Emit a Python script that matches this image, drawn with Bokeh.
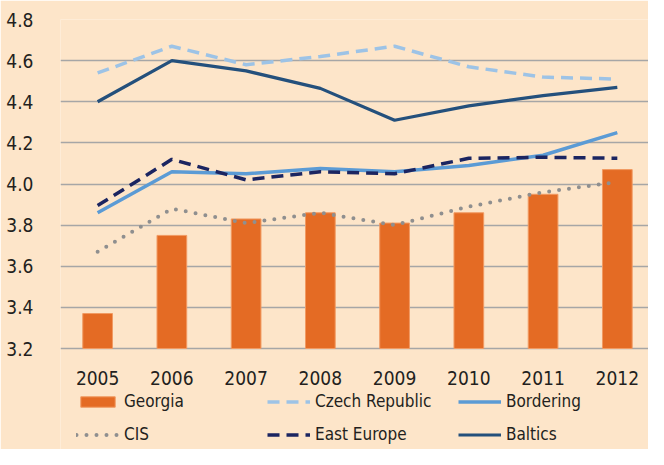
from bokeh.plotting import figure
from bokeh.models import Range1d, FixedTicker, Legend, LegendItem
from bokeh.core.properties import value
from bokeh.embed import file_html
from bokeh.resources import INLINE

years = ["2005", "2006", "2007", "2008", "2009", "2010", "2011", "2012"]
georgia = [3.37, 3.75, 3.83, 3.86, 3.81, 3.86, 3.95, 4.07]
czech = [4.54, 4.67, 4.58, 4.62, 4.67, 4.57, 4.52, 4.51]
bordering = [3.86, 4.06, 4.05, 4.075, 4.06, 4.09, 4.14, 4.25]
cis = [3.67, 3.88, 3.81, 3.86, 3.80, 3.89, 3.96, 4.01]
east_europe = [3.895, 4.12, 4.02, 4.06, 4.05, 4.125, 4.13, 4.125]
baltics = [4.40, 4.60, 4.55, 4.465, 4.31, 4.38, 4.43, 4.47]
y_ticks = [3.2, 3.4, 3.6, 3.8, 4.0, 4.2, 4.4, 4.6, 4.8]

xs = list(range(1, len(years) + 1))
y_min, y_max = y_ticks[0], y_ticks[-1]

FONT = "DejaVu Sans Condensed"
TXT = "#231f20"
BG = "#fde5c9"
GRID = "#a6a6a6"

W, H = 648, 449
TOP, LEFT = 19, 60
BASE = 348  # canvas y of the lowest gridline
# frame spans down to the bottom of the canvas so the legend can sit inside it
px_per_unit = (BASE - TOP) / (y_max - y_min)
y_start = y_max - (H - TOP) / px_per_unit

p = figure(width=W, height=H, output_backend="svg", toolbar_location=None,
           x_range=Range1d(0.5, 8.42), y_range=Range1d(y_start, y_max),
           min_border_left=LEFT, min_border_right=0, min_border_top=TOP, min_border_bottom=0)
p.background_fill_color = BG
p.border_fill_color = BG
p.outline_line_color = None

bars = p.vbar(x=xs, top=georgia, bottom=y_min, width=0.4, fill_color="#e46b24",
              line_color="#f19a62", line_width=1)
l_czech = p.line(xs, czech, line_color="#9dc3e6", line_width=3.5, line_dash="12 7")
l_bord = p.line(xs, bordering, line_color="#5b9bd5", line_width=3.5)
l_cis = p.line(xs, cis, line_color="#8f8f8f", line_width=4, line_dash="0 10", line_cap="round")
l_ee = p.line(xs, east_europe, line_color="#1b2561", line_width=3.5, line_dash="12 7")
l_balt = p.line(xs, baltics, line_color="#24507c", line_width=3.2)

# category labels under the baseline
p.text(x=xs, y=[y_min] * len(xs), text=years, y_offset=29,
       text_align="center", text_baseline="middle",
       text_font=value(FONT), text_font_size="19px", text_color=TXT)

p.xgrid.grid_line_color = None
p.ygrid.grid_line_color = GRID
p.ygrid.grid_line_width = 1.5
p.ygrid.ticker = FixedTicker(ticks=y_ticks)

p.xaxis.visible = False

p.yaxis.ticker = FixedTicker(ticks=y_ticks)
p.yaxis.major_label_overrides = {t: f"{t:.1f}" for t in y_ticks}
p.yaxis.axis_line_color = None
p.yaxis.major_tick_line_color = None
p.yaxis.minor_tick_line_color = None
p.yaxis.major_label_standoff = 21
p.yaxis.major_label_text_font = FONT
p.yaxis.major_label_text_font_size = "19px"
p.yaxis.major_label_text_color = TXT

legend = Legend(items=[
    LegendItem(label="Georgia", renderers=[bars]),
    LegendItem(label="Czech Republic", renderers=[l_czech]),
    LegendItem(label="Bordering", renderers=[l_bord]),
    LegendItem(label="CIS", renderers=[l_cis]),
    LegendItem(label="East Europe", renderers=[l_ee]),
    LegendItem(label="Baltics", renderers=[l_balt]),
], ncols=3, orientation="horizontal")
legend.location = (16, 5)
legend.margin = 0
legend.padding = 0
legend.spacing = 13
legend.glyph_width = 43
legend.glyph_height = 13
legend.label_height = 18
legend.label_width = 130
legend.label_standoff = 5
legend.label_text_font = FONT
legend.label_text_font_size = "17px"
legend.label_text_color = TXT
legend.background_fill_alpha = 0
legend.border_line_color = None
p.add_layout(legend, "center")

open("out.html", "w").write(file_html(p, INLINE))
